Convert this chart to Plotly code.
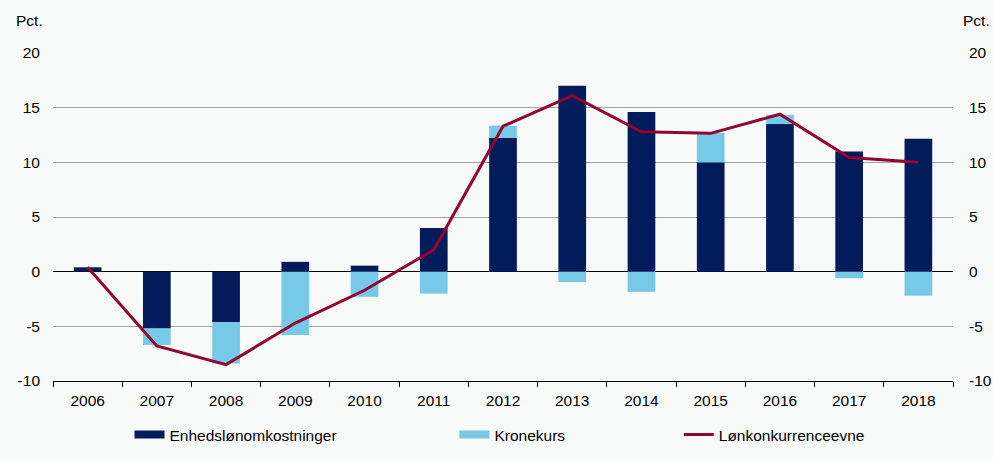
import plotly.graph_objects as go

years = [str(y) for y in range(2006, 2019)]
enheds = [0.4, -5.2, -4.6, 0.9, 0.55, 4.0, 12.25, 17.0, 14.6, 10.0, 13.5, 11.0, 12.15]
krone = [0.0, -1.5, -3.8, -5.8, -2.3, -2.0, 1.1, -0.95, -1.85, 2.7, 0.85, -0.6, -2.2]
loen = [0.4, -6.8, -8.5, -4.7, -1.7, 2.0, 13.3, 16.1, 12.8, 12.65, 14.4, 10.45, 10.0]

tick_vals = [-10, -5, 0, 5, 10, 15, 20]
tick_text = ["-10", "-5", "0", "5", "10", "15", "20"]

DARK = "#021b5a"
LIGHT = "#76c9e7"
RED = "#920630"
FONT = dict(family="Liberation Sans, Arial, sans-serif", size=15.5, color="#000000")

fig = go.Figure()
fig.add_bar(x=years, y=enheds, marker_color=DARK, marker_line_width=0,
            showlegend=False, name="Enhedslønomkostninger")
fig.add_bar(x=years, y=krone, marker_color=LIGHT, marker_line_width=0,
            showlegend=False, name="Kronekurs")
fig.add_scatter(x=years, y=loen, mode="lines", line=dict(color=RED, width=3),
                showlegend=False, name="Lønkonkurrenceevne")
# invisible trace to switch on the right-hand axis
fig.add_scatter(x=years, y=loen, yaxis="y2", mode="lines", line=dict(width=0),
                opacity=0, showlegend=False, hoverinfo="skip")

# legend entries (wide swatches like the original)
fig.add_scatter(x=[None], y=[None], mode="lines", line=dict(color=DARK, width=8),
                name="Enhedslønomkostninger", legend="legend")
fig.add_scatter(x=[None], y=[None], mode="lines", line=dict(color=LIGHT, width=8),
                name="Kronekurs", legend="legend2")
fig.add_scatter(x=[None], y=[None], mode="lines", line=dict(color=RED, width=3),
                name="Lønkonkurrenceevne", legend="legend3")

leg = dict(orientation="h", yref="container", yanchor="middle", y=0.0564,
           xanchor="left", bgcolor="rgba(0,0,0,0)", font=FONT, itemwidth=30)
axis_y = dict(range=[-10, 20], tickvals=tick_vals, ticktext=tick_text,
              ticks="", tickfont=FONT, fixedrange=True, automargin=False)
fig.update_layout(
    barmode="relative",
    bargap=0.6,
    width=993, height=461,
    margin=dict(l=53, r=40, t=53, b=80),
    paper_bgcolor="#f8f9f9",
    plot_bgcolor="#f8f9f9",
    font=FONT,
    legend=dict(leg, x=0.085),
    legend2=dict(leg, x=0.446),
    legend3=dict(leg, x=0.6953),
    xaxis=dict(showgrid=False, showline=True, linecolor="#000000", linewidth=1,
               ticks="outside", tickson="boundaries", ticklen=5, automargin=False,
               tickcolor="#000000", tickfont=FONT, ticklabelstandoff=5),
    yaxis=dict(axis_y, showgrid=True, gridcolor="#a3a3a3", gridwidth=1,
               zeroline=True, zerolinecolor="#000000", zerolinewidth=1,
               ticklabelstandoff=12),
    yaxis2=dict(axis_y, overlaying="y", side="right", showgrid=False,
                zeroline=False, ticklabelstandoff=15),
)

fig.add_annotation(text="Pct.", xref="paper", yref="paper", x=-0.026, y=1.068,
                   xanchor="center", yanchor="bottom", showarrow=False, font=FONT)
fig.add_annotation(text="Pct.", xref="paper", yref="paper", x=1.026, y=1.068,
                   xanchor="center", yanchor="bottom", showarrow=False, font=FONT)

fig.write_html("out.html", config={"displayModeBar": False},
               post_script="document.body.style.margin='0';")
